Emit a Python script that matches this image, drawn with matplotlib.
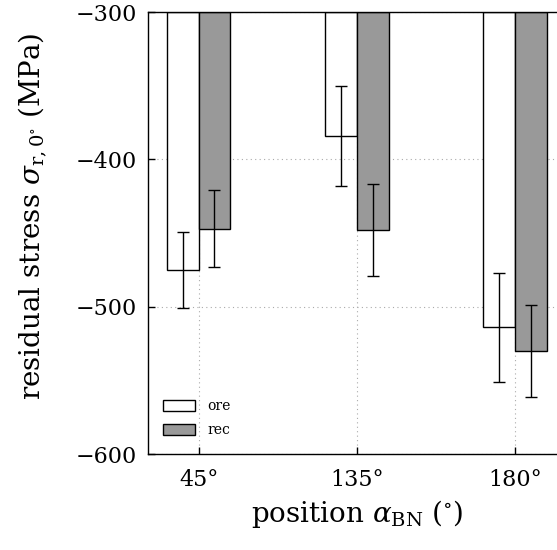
import matplotlib
matplotlib.use("Agg")
import matplotlib.pyplot as plt
import numpy as np

# Residual stress per position, original ("ore") and reconditioned ("rec")
positions = ["45°", "135°", "180°"]
ore_mean = [-475, -384, -514]
ore_err = [26, 34, 37]
rec_mean = [-447, -448, -530]
rec_err = [26, 31, 31]

baseline = -300

plt.rcParams["font.family"] = ["DejaVu Serif"]
plt.rcParams["mathtext.fontset"] = "dejavuserif"

fig = plt.figure(figsize=(5.57, 5.50), dpi=100)
ax = fig.add_axes([0.2657, 0.1745, 0.750, 0.8036])

x = np.arange(len(positions))
w = 0.2
ax.set_axisbelow(True)
ax.grid(True, linestyle=(0, (1, 3)), color="#aaaaaa", linewidth=0.8)

ax.bar(x - w / 2, np.array(ore_mean) - baseline, w, bottom=baseline,
       color="white", edgecolor="black", linewidth=1.0, label="ore")
ax.bar(x + w / 2, np.array(rec_mean) - baseline, w, bottom=baseline,
       color="#999999", edgecolor="black", linewidth=1.0, label="rec")
ax.errorbar(x - w / 2, ore_mean, yerr=ore_err, fmt="none", ecolor="black",
            elinewidth=1.0, capsize=4, capthick=1.0)
ax.errorbar(x + w / 2, rec_mean, yerr=rec_err, fmt="none", ecolor="black",
            elinewidth=1.0, capsize=4, capthick=1.0)

ax.set_xlim(-0.32, 2.32)
ax.set_ylim(-600, -300)
ax.set_yticks([-600, -500, -400, -300])
ax.set_yticklabels(["\u2212600", "\u2212500", "\u2212400", "\u2212300"])
ax.set_xticks(x)
ax.set_xticklabels(positions)
ax.tick_params(direction="in", length=5, width=1.0, labelsize=16)
ax.tick_params(axis="y", pad=8)
ax.tick_params(axis="x", pad=11)
for s in ax.spines.values():
    s.set_linewidth(1.0)

ax.set_ylabel(r"residual stress $\sigma_{\mathrm{r},0^{\circ}}$ (MPa)", fontsize=20)
ax.yaxis.set_label_coords(-0.237, 0.538)
ax.set_xlabel(r"position $\alpha_{\mathrm{BN}}$ ($^{\circ}$)", fontsize=20, labelpad=5)

ax.legend(loc="lower left", bbox_to_anchor=(0.023, 0.026), frameon=False,
          fontsize=10, handlelength=2.3, handleheight=0.85, handletextpad=0.9,
          labelspacing=0.7, borderaxespad=0)

fig.savefig("out.png", dpi=100)
